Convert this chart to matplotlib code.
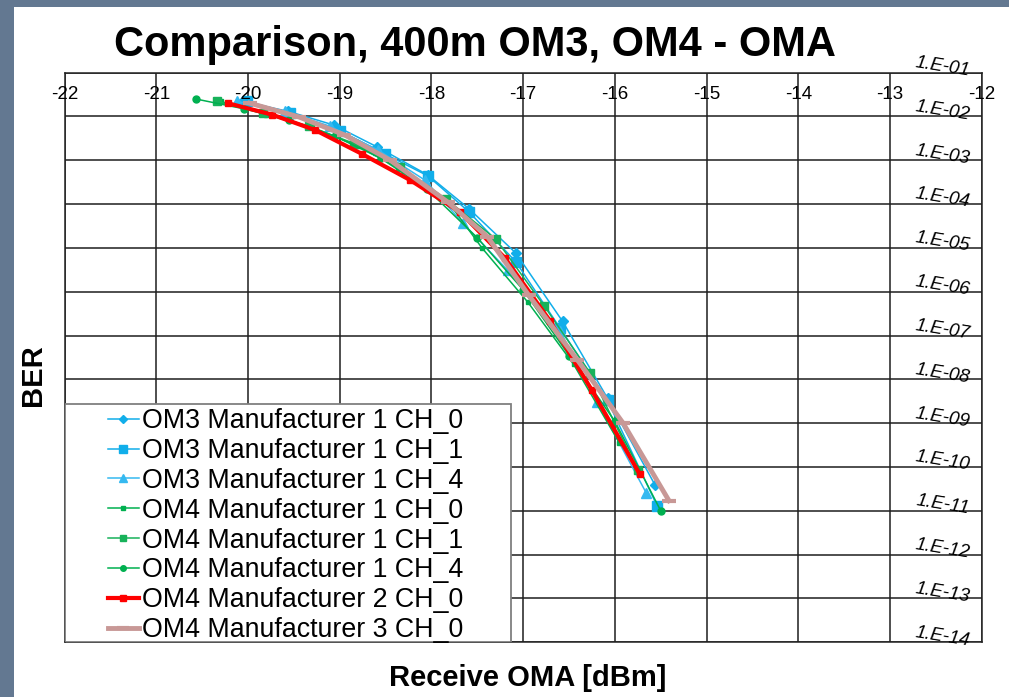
import numpy as np
import matplotlib
matplotlib.use('Agg')
from matplotlib import pyplot as plt
from matplotlib.patches import Rectangle
from matplotlib.ticker import NullLocator
import matplotlib.transforms as mtransforms

plt.rcParams['font.family'] = ['Liberation Sans', 'DejaVu Sans']

# Receive OMA [dBm] and BER per series
om3_m1_ch0_x = [-20.06, -19.56, -19.06, -18.59, -18.04, -17.59, -17.08, -16.57, -16.08, -15.56]
om3_m1_ch0_y = [2.2e-2, 1.3e-2, 6.3e-3, 2.0e-3, 4.6e-4, 7.8e-5, 7.6e-6, 2.1e-7, 3.7e-9, 3.8e-11]

om3_m1_ch1_x = [-20.01, -19.54, -19.00, -18.51, -18.04, -17.59, -17.08, -16.60, -16.08, -15.54]
om3_m1_ch1_y = [2.2e-2, 1.2e-2, 4.7e-3, 1.4e-3, 4.4e-4, 6.6e-5, 4.8e-6, 1.5e-7, 3.3e-9, 1.3e-11]

om3_m1_ch4_x = [-20.12, -19.60, -19.11, -18.58, -18.07, -17.66, -17.17, -16.60, -16.19, -15.66]
om3_m1_ch4_y = [2.2e-2, 1.3e-2, 6.0e-3, 1.7e-3, 3.5e-4, 3.7e-5, 3.1e-6, 1.3e-7, 3.0e-9, 2.6e-11]

om4_m1_ch0_x = [-20.30, -19.80, -19.30, -18.80, -18.30, -17.80, -17.45, -16.95, -16.45, -15.95]
om4_m1_ch0_y = [2.2e-2, 1.1e-2, 5.6e-3, 2.1e-3, 5.6e-4, 1.0e-4, 1.0e-5, 5.8e-7, 2.2e-8, 3.5e-10]

om4_m1_ch1_x = [-20.34, -19.84, -19.34, -18.84, -18.34, -17.84, -17.30, -16.77, -16.27, -15.75]
om4_m1_ch1_y = [2.2e-2, 1.2e-2, 6.0e-3, 2.4e-3, 7.1e-4, 1.3e-4, 1.6e-5, 4.7e-7, 1.4e-8, 8.5e-11]

om4_m1_ch4_x = [-20.57, -20.05, -19.55, -19.05, -18.55, -18.05, -17.50, -17.00, -16.50, -16.00, -15.50]
om4_m1_ch4_y = [2.5e-2, 1.5e-2, 8.3e-3, 3.5e-3, 1.1e-3, 2.2e-4, 1.7e-5, 1.1e-6, 3.5e-8, 1.1e-9, 1.0e-11]

om4_m2_ch0_x = [-20.22, -19.74, -19.27, -18.76, -18.23, -17.69, -17.20, -16.71, -16.25, -15.73]
om4_m2_ch0_y = [2.0e-2, 1.1e-2, 4.9e-3, 1.4e-3, 3.5e-4, 6.6e-5, 5.9e-6, 2.2e-7, 5.6e-9, 6.9e-11]

om4_m3_ch0_x = [-19.98, -19.45, -18.95, -18.45, -17.82, -17.39, -16.94, -16.41, -15.91, -15.41]
om4_m3_ch0_y = [2.0e-2, 9.8e-3, 3.8e-3, 1.0e-3, 1.1e-4, 1.8e-5, 8.3e-7, 2.8e-8, 1.0e-9, 1.7e-11]

x_ticks = list(range(-22, -11))
y_exps = list(range(1, 15))

blue = '#11AEEA'
blue2 = '#35B9F0'
green = '#00B050'
green2 = '#17B25A'
red = '#FF0000'
rosy = '#C89896'

fig = plt.figure(figsize=(10.09, 6.97), dpi=100)
fig.patch.set_facecolor('white')

# slide frame strips
fig.patches.append(Rectangle((0, 0), 14/1009, 1, transform=fig.transFigure,
                             facecolor='#637891', edgecolor='none', zorder=0))
fig.patches.append(Rectangle((0, 1-7/697), 1, 7/697, transform=fig.transFigure,
                             facecolor='#637891', edgecolor='none', zorder=0))

ax = fig.add_axes([0.06412, 0.07848, 0.90882, 0.81736])
ax.set_yscale('log')
ax.set_xlim(-22, -12)
ax.set_ylim(1e-14, 1e-1)
ax.set_xticks(x_ticks)
ax.set_yticks([10.0**-e for e in y_exps])
ax.yaxis.set_minor_locator(NullLocator())
ax.tick_params(length=0, labelbottom=False, labelleft=False)
ax.grid(True, color='#1e1e1e', lw=1.1)
ax.set_axisbelow(True)
for sp in ax.spines.values():
    sp.set_color('#222222')
    sp.set_linewidth(1.1)

ax.plot(om3_m1_ch0_x, om3_m1_ch0_y, color=blue, lw=1.1, marker='D', ms=5,
        label='OM3 Manufacturer 1 CH_0')
ax.plot(om3_m1_ch1_x, om3_m1_ch1_y, color=blue, lw=1.1, marker='s', ms=7,
        label='OM3 Manufacturer 1 CH_1')
ax.plot(om3_m1_ch4_x, om3_m1_ch4_y, color=blue2, lw=1.1, marker='^', ms=7,
        label='OM3 Manufacturer 1 CH_4')
ax.plot(om4_m1_ch0_x, om4_m1_ch0_y, color=green, lw=1.1, marker='s', ms=3.5,
        label='OM4 Manufacturer 1 CH_0')
ax.plot(om4_m1_ch1_x, om4_m1_ch1_y, color=green2, lw=1.1, marker='s', ms=6,
        label='OM4 Manufacturer 1 CH_1')
ax.plot(om4_m1_ch4_x, om4_m1_ch4_y, color=green, lw=1.1, marker='o', ms=5,
        label='OM4 Manufacturer 1 CH_4')
ax.plot(om4_m2_ch0_x, om4_m2_ch0_y, color=red, lw=3, marker='s', ms=5,
        label='OM4 Manufacturer 2 CH_0')
ax.plot(om4_m3_ch0_x, om4_m3_ch0_y, color=rosy, lw=3.5, marker='_', ms=10, mew=3,
        label='OM4 Manufacturer 3 CH_0')

# x labels sit inside the plot, just under the top edge
tr_x = mtransforms.blended_transform_factory(ax.transData, ax.transAxes)
for v in x_ticks:
    ax.text(v, 0.9607, str(v), transform=tr_x, ha='center', va='center',
            fontsize=13.5)

# y labels on the right, italic and slightly tilted
tr_y = mtransforms.blended_transform_factory(ax.transAxes, ax.transData)
for e in y_exps:
    ax.text(0.957, 10.0**-e * 1.35, '1.E-%02d' % e, transform=tr_y,
            ha='center', va='center', fontsize=13.5, style='italic', rotation=-9)

# legend box (Excel style, wider than its content)
ax.add_patch(Rectangle((0, 0), 0.4867, 0.418, transform=ax.transAxes,
                       facecolor='white', edgecolor='#7f7f7f', lw=1.3, zorder=4))
leg = ax.legend(loc='upper left', bbox_to_anchor=(108/1009, 1-408/697),
                bbox_transform=fig.transFigure, frameon=False, fontsize=19.3,
                borderpad=0, labelspacing=0.145, handlelength=1.15,
                handletextpad=0.1, borderaxespad=0, markerscale=0.8)
leg.set_zorder(5)

fig.text(475/1009, 1-45/697, 'Comparison, 400m OM3, OM4 - OMA',
         ha='center', va='center', fontsize=30, fontweight='bold')
fig.text(33/1009, 1-375/697, 'BER', ha='center', va='center', rotation=90,
         fontsize=21, fontweight='bold')
fig.text(528/1009, 1-678/697, 'Receive OMA [dBm]', ha='center', va='center',
         fontsize=21, fontweight='bold')

fig.savefig('out.png', dpi=100)
